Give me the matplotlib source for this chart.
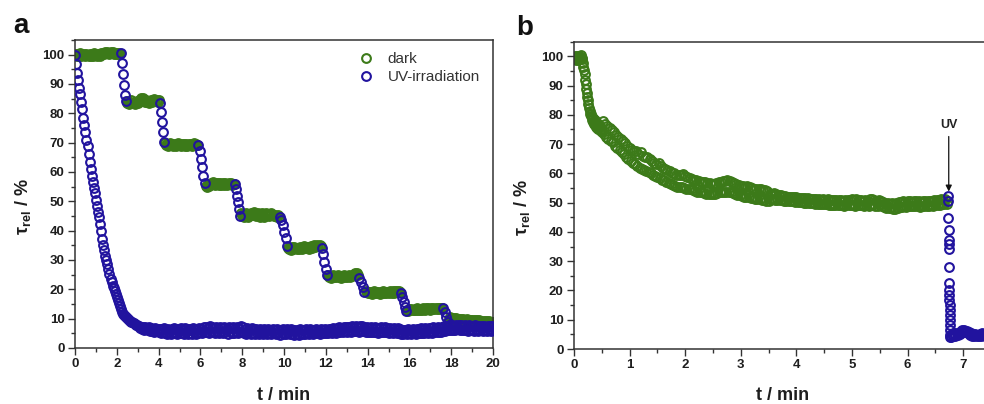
import numpy as np
import matplotlib
matplotlib.use("Agg")
import matplotlib.pyplot as plt
from matplotlib.lines import Line2D
from matplotlib.ticker import MultipleLocator

plt.rcParams.update({
    "font.family": ["Liberation Sans", "DejaVu Sans"],
    "mathtext.fontset": "custom",
    "mathtext.rm": "Liberation Sans",
    "mathtext.bf": "Liberation Sans:bold",
    "mathtext.it": "Liberation Sans:italic",
    "mathtext.default": "regular",
})

GREEN = "#3c7a19"
BLUE = "#21139e"

# ---------------- Panel a: stepwise (dark / UV pulses) ----------------
dark_bounds = [(0.0, 2.15), (2.5, 4.0), (4.3, 5.85), (6.25, 7.6), (7.95, 9.75),
               (10.2, 11.75), (12.1, 13.55), (13.9, 15.55), (15.9, 17.55), (17.9, 20.0)]
dark_1 = [99.8, 100.3, 99.5, 100.1, 99.7, 100.4, 99.4, 100.0, 99.8, 100.2,
          99.6, 100.3, 99.9, 99.5, 100.2, 99.7, 100.1, 99.6, 100.4, 99.9,
          100.2, 99.7, 100.3, 100.0, 99.6, 100.5, 100.1, 100.7, 100.3, 100.9,
          100.4, 101.0, 100.6, 100.2, 100.8, 100.4, 100.9, 100.3, 100.7, 100.1,
          100.6, 100.2, 100.5, 100.3]
dark_2 = [83.6, 84.2, 83.3, 83.9, 84.4, 83.5, 84.0, 83.2, 83.8, 84.3,
          83.6, 84.1, 84.6, 85.1, 84.4, 85.3, 84.7, 84.0, 84.5, 83.7,
          84.2, 83.5, 84.0, 84.6, 83.8, 84.3, 84.9, 84.2, 84.6, 84.0, 84.4]
dark_3 = [69.8, 69.2, 69.6, 68.9, 69.4, 69.9, 69.1, 69.5, 68.8, 69.3,
          69.7, 69.0, 69.4, 69.8, 69.2, 68.9, 69.5, 69.1, 69.6, 69.0,
          69.4, 68.8, 69.3, 69.7, 69.1, 69.5, 68.9, 69.4, 69.8, 69.2, 69.6, 69.1]
dark_4 = [55.3, 54.9, 55.5, 55.1, 55.8, 56.3, 55.9, 56.5, 56.0, 55.6,
          56.2, 55.8, 56.4, 55.7, 56.1, 55.5, 56.0, 56.3, 55.7, 56.1,
          55.6, 55.9, 56.4, 55.8, 56.2, 55.7, 56.0, 55.8]
dark_5 = [46.0, 45.3, 45.8, 44.8, 45.5, 46.1, 45.0, 44.6, 45.4, 45.9,
          45.2, 45.7, 46.2, 45.5, 45.0, 45.8, 46.1, 45.4, 44.8, 45.3,
          45.9, 45.1, 44.7, 45.5, 46.0, 45.3, 45.8, 45.0, 45.6, 46.1,
          45.4, 44.9, 45.5, 45.1, 44.7, 45.2, 44.8]
dark_6 = [34.2, 33.7, 34.0, 33.5, 34.3, 33.9, 34.5, 34.1, 33.6, 34.2,
          33.8, 34.4, 34.0, 33.7, 34.3, 34.8, 34.2, 34.6, 34.0, 34.5,
          33.9, 34.3, 34.7, 34.1, 34.6, 35.0, 34.4, 34.9, 35.2, 34.7, 35.1, 34.8]
dark_7 = [24.8, 24.2, 24.6, 24.0, 24.5, 24.9, 24.3, 24.7, 24.1, 24.5,
          24.8, 24.2, 24.6, 24.0, 24.4, 24.8, 24.3, 24.6, 24.1, 24.5,
          24.9, 24.3, 24.7, 24.4, 24.8, 25.2, 25.6, 25.1, 25.4, 25.0]
dark_8 = [19.4, 19.0, 18.6, 19.2, 18.8, 19.1, 18.5, 18.9, 19.3, 18.7,
          19.0, 18.6, 19.2, 18.8, 18.5, 19.1, 18.9, 19.3, 18.7, 19.0,
          18.6, 19.2, 18.8, 19.4, 19.0, 18.7, 19.3, 18.9, 19.5, 19.1,
          19.6, 19.2, 19.4, 19.0]
dark_9 = [13.0, 12.7, 13.2, 12.9, 13.4, 13.0, 12.8, 13.3, 13.1, 13.5,
          13.0, 13.3, 12.9, 13.4, 13.1, 13.6, 13.2, 13.0, 13.5, 13.2,
          13.7, 13.3, 13.1, 13.6, 13.4, 13.8, 13.3, 13.6, 13.2, 13.7,
          13.4, 13.8, 13.5, 13.6]
dark_10 = [10.0, 10.4, 9.9, 10.2, 9.7, 10.1, 9.8, 10.3, 9.9, 10.0,
           9.6, 9.9, 9.5, 9.8, 9.4, 9.7, 9.5, 9.8, 9.3, 9.6,
           9.4, 9.7, 9.2, 9.5, 9.3, 9.6, 9.2, 9.4, 9.1, 9.5,
           9.2, 9.0, 9.3, 8.9, 9.2, 9.0, 9.3, 8.9, 9.1, 8.8,
           9.0, 8.8, 8.9]
dark_values = [dark_1, dark_2, dark_3, dark_4, dark_5, dark_6, dark_7, dark_8, dark_9, dark_10]

pulse_bounds = [(2.2, 2.45), (4.05, 4.25), (5.9, 6.2), (7.65, 7.9), (9.8, 10.15),
                (11.8, 12.05), (13.6, 13.85), (15.6, 15.85), (17.6, 17.85)]
pulse_1 = [100.4, 97.3, 93.4, 89.6, 86.2, 84.3]
pulse_2 = [83.6, 80.3, 76.9, 73.5, 70.2]
pulse_3 = [69.2, 67.0, 64.4, 61.6, 58.7, 56.3]
pulse_4 = [55.9, 54.2, 51.9, 49.7, 47.4, 45.1]
pulse_5 = [44.6, 43.6, 41.9, 39.7, 37.4, 34.8]
pulse_6 = [34.2, 32.1, 29.3, 27.0, 24.8]
pulse_7 = [24.0, 22.4, 20.7, 19.2]
pulse_8 = [18.9, 17.3, 15.6, 13.9, 12.6]
pulse_9 = [13.7, 12.2, 10.5, 9.0]
pulse_values = [pulse_1, pulse_2, pulse_3, pulse_4, pulse_5, pulse_6, pulse_7, pulse_8, pulse_9]

# continuous UV irradiation
uv_fast_bounds = (0.0, 3.0)
uv_fast = [100.0, 96.8, 93.8, 91.3, 88.8, 86.5, 84.0, 81.5, 78.5, 76.0,
           73.5, 71.0, 68.7, 66.0, 63.5, 61.0, 58.5, 56.5, 54.5, 52.8,
           50.5, 48.5, 46.5, 44.5, 42.3, 39.8, 37.3, 35.0, 33.3, 31.5,
           30.0, 28.5, 27.0, 25.2, 23.6, 22.5, 21.3, 20.3, 19.3, 18.3,
           17.3, 16.2, 15.2, 14.3, 13.2, 12.3, 11.5, 11.1, 10.8, 10.5,
           10.2, 9.9, 9.6, 9.3, 9.0, 8.7, 8.5, 8.2, 8.0, 7.8, 7.6]
uv_slow_bounds = (3.05, 20.0)
uv_slow = [7.6, 6.8, 7.3, 6.4, 7.1, 6.2, 7.0, 6.5, 6.9, 6.1,
           7.2, 5.9, 6.8, 5.7, 6.6, 5.4, 6.7, 5.8, 6.5, 5.3,
           6.6, 5.2, 6.4, 5.5, 6.9, 5.1, 6.3, 4.9, 6.5, 5.4,
           6.2, 4.8, 6.6, 5.3, 6.8, 5.0, 6.1, 4.7, 6.4, 5.2,
           6.7, 5.1, 6.3, 4.8, 6.9, 5.4, 6.2, 4.9, 6.6, 5.0,
           6.4, 4.9, 6.8, 5.3, 6.5, 4.8, 6.3, 5.1, 6.9, 5.4,
           6.6, 5.2, 7.1, 5.6, 7.3, 5.5, 6.8, 5.1, 7.4, 5.7,
           7.0, 5.3, 6.8, 5.0, 7.2, 5.4, 6.9, 5.2, 7.1, 5.5,
           6.7, 5.1, 7.0, 5.3, 6.6, 4.9, 7.2, 5.4, 6.8, 5.0,
           7.1, 5.2, 6.9, 5.5, 7.3, 5.0, 6.8, 5.3, 7.4, 5.6,
           7.2, 5.1, 6.6, 4.8, 6.9, 5.3, 6.5, 4.9, 6.7, 5.2,
           6.4, 4.8, 6.6, 5.1, 6.3, 4.7, 6.5, 5.0, 6.2, 4.9,
           6.6, 5.0, 6.3, 4.8, 6.5, 5.2, 6.1, 4.7, 6.4, 5.0,
           6.2, 4.9, 6.5, 5.1, 6.0, 4.6, 6.3, 5.0, 6.4, 4.8,
           6.1, 4.7, 6.4, 5.0, 6.2, 4.8, 6.5, 4.9, 6.0, 4.6,
           6.3, 4.9, 6.1, 4.5, 6.4, 5.0, 6.2, 4.7, 6.0, 4.8,
           6.4, 5.0, 6.2, 4.8, 6.5, 5.1, 6.3, 4.9, 6.1, 5.0,
           6.5, 5.2, 6.3, 4.9, 6.6, 5.1, 6.2, 5.0, 6.4, 5.2,
           6.3, 5.1, 6.6, 5.3, 6.4, 5.0, 6.7, 5.4, 6.5, 5.2,
           6.8, 5.5, 7.0, 5.6, 6.9, 5.4, 7.2, 5.7, 7.1, 5.6,
           7.3, 5.8, 7.1, 5.6, 7.4, 5.9, 7.2, 5.7, 7.5, 5.8,
           7.2, 5.6, 7.4, 5.9, 7.6, 5.8, 7.3, 5.5, 7.1, 5.6,
           6.9, 5.4, 7.1, 5.6, 6.8, 5.3, 7.0, 5.5, 6.7, 5.2,
           6.9, 5.4, 7.0, 5.3, 6.8, 5.5, 7.1, 5.4, 6.7, 5.2,
           6.8, 5.3, 6.6, 5.1, 6.9, 5.4, 6.5, 5.0, 6.7, 5.2,
           6.4, 4.9, 6.2, 4.8, 6.3, 5.0, 6.1, 4.7, 6.4, 5.0,
           6.2, 4.8, 6.5, 5.1, 6.3, 4.9, 6.6, 5.2, 6.4, 5.0,
           6.7, 5.2, 6.5, 5.0, 6.8, 5.3, 6.6, 5.1, 6.9, 5.4,
           6.7, 5.2, 7.0, 5.5, 6.8, 5.3, 7.1, 5.6, 6.9, 5.4,
           7.2, 5.7, 7.4, 5.9, 7.6, 6.0, 7.5, 6.1, 7.7, 6.2,
           7.8, 6.3, 7.6, 6.1, 7.9, 6.4, 7.7, 6.0, 7.8, 6.3,
           7.6, 6.1, 7.8, 6.2, 7.5, 5.9, 7.7, 6.3, 7.6, 6.0,
           7.5, 5.9, 7.7, 6.2, 7.4, 5.8, 7.6, 6.1, 7.5, 5.9,
           7.6, 6.0, 7.3, 5.8, 7.5, 6.1, 7.4, 5.7, 7.6, 6.0]

# ---------------- Panel b: dark then UV ----------------
b_dark_early_bounds = (0.0, 0.50)
b_dark_early = [99.2, 100.0, 99.5, 98.8, 99.8, 100.2, 99.4, 98.9, 99.7, 100.1,
                99.3, 99.0, 99.8, 100.3, 99.6,
                99.0, 97.8, 96.5, 95.2, 93.8, 92.0, 90.5, 89.0, 87.6, 86.2,
                85.0, 83.6, 82.5, 81.2, 80.4, 79.6,
                80.2, 78.4, 79.3, 77.6, 78.8, 77.0, 78.1, 76.5, 77.7, 76.0,
                77.2, 75.6, 76.8, 75.2, 76.4, 74.8, 75.9, 74.5, 75.3, 74.0]
b_dark_late_bounds = (0.52, 6.70)
b_dark_late = [78.0, 73.4, 76.8, 72.5, 76.1, 71.8, 75.5, 71.0, 74.8, 70.6,
               74.2, 69.4, 73.1, 68.8, 72.6, 67.9, 71.7, 67.2, 71.0, 66.6,
               70.4, 65.5, 69.3, 65.0, 68.7, 64.1, 68.0, 63.6, 67.6, 63.1,
               67.7, 62.4, 66.6, 61.9, 67.2, 61.5, 65.9, 61.1, 65.5, 60.8,
               65.6, 60.5, 64.9, 60.0, 64.3, 59.6, 63.7, 59.1, 63.3, 58.8,
               63.4, 58.4, 62.6, 57.9, 62.0, 57.6, 61.5, 57.1, 61.1, 56.8,
               60.9, 56.5, 60.3, 56.1, 60.0, 55.8, 59.6, 55.5, 59.3, 55.3,
               59.4, 55.2, 59.7, 55.0, 59.0, 54.8, 58.6, 54.6, 58.3, 54.5,
               58.1, 54.3, 57.8, 54.0, 57.6, 53.8, 57.3, 53.6, 57.1, 53.5,
               57.2, 53.3, 56.9, 53.1, 56.7, 53.0, 56.6, 52.9, 56.4, 53.1,
               56.5, 53.1, 56.7, 53.3, 57.0, 53.5, 57.2, 53.7, 57.4, 53.8,
               57.5, 53.8, 57.7, 53.7, 57.3, 53.5, 57.0, 53.2, 56.8, 53.0,
               56.4, 52.7, 56.1, 52.5, 55.8, 52.2, 55.6, 52.0, 55.4, 51.9,
               55.7, 51.8, 55.3, 51.6, 55.1, 51.5, 54.8, 51.3, 54.6, 51.2,
               54.5, 51.1, 54.7, 51.0, 54.4, 50.8, 54.2, 50.7, 54.0, 50.6,
               53.1, 51.3, 52.9, 51.2, 53.2, 51.0, 52.8, 50.9, 52.6, 50.9,
               52.5, 50.8, 52.3, 50.7, 52.4, 50.6, 52.1, 50.5, 52.0, 50.5,
               51.9, 50.4, 52.0, 50.3, 51.8, 50.2, 51.7, 50.2, 51.6, 50.1,
               51.7, 50.0, 51.5, 49.9, 51.6, 49.9, 51.4, 49.8, 51.3, 49.8,
               51.2, 49.7, 51.3, 49.6, 51.1, 49.5, 51.0, 49.5, 51.2, 49.4,
               51.0, 49.4, 51.1, 49.3, 50.9, 49.2, 51.0, 49.3, 50.8, 49.2,
               50.9, 49.2, 51.0, 49.1, 50.8, 49.1, 50.7, 49.0, 50.9, 49.2,
               51.0, 49.1, 50.8, 49.3, 51.2, 49.2, 50.9, 49.0, 51.1, 49.2,
               50.8, 49.1, 51.0, 49.3, 50.7, 49.0, 50.9, 49.2, 50.6, 48.9,
               51.1, 49.2, 51.3, 49.4, 50.9, 49.0, 50.7, 48.9, 50.8, 49.1,
               50.5, 48.8, 50.3, 48.6, 50.0, 48.3, 49.8, 48.1, 49.7, 48.2,
               49.9, 48.0, 49.6, 47.9, 49.8, 48.2, 50.1, 48.4, 50.3, 48.5,
               50.5, 48.7, 50.2, 48.6, 50.4, 48.8, 50.6, 48.9, 50.3, 48.7,
               50.5, 48.8, 50.7, 48.9, 50.4, 48.6, 50.2, 48.7, 50.5, 48.9,
               50.6, 49.0, 50.4, 48.8, 50.7, 49.1, 50.5, 48.9, 50.8, 49.2,
               51.0, 49.3, 50.8, 49.2, 51.2, 49.5, 50.9, 49.4, 51.4, 49.7]
b_uv_drop_bounds = (6.73, 6.77)
b_uv_drop = [52.2, 50.5, 44.6, 40.6, 37.2, 35.8, 34.0, 28.1, 22.4, 20.1,
             18.4, 16.7, 15.0, 13.3, 11.6, 9.9, 8.2, 6.5, 4.8, 4.0]
b_uv_tail_bounds = (6.78, 7.50)
b_uv_tail = [4.2, 5.0, 4.4, 5.3, 4.6, 5.5, 4.8, 5.6, 5.2, 6.0,
             6.4, 5.8, 6.6, 5.9, 6.2, 5.4, 5.7, 4.9, 5.3, 4.6,
             5.0, 4.4, 5.2, 4.5, 4.9, 4.3, 5.1, 4.6, 5.3, 4.7,
             5.2, 4.5, 5.0, 4.4, 5.1, 4.6, 4.9]


def times(bounds, values):
    return np.linspace(bounds[0], bounds[1], len(values))


mk = dict(linestyle="none", marker="o", markerfacecolor="none", markersize=6.3,
          markeredgewidth=1.5)

fig = plt.figure(figsize=(9.84, 4.04), dpi=100)
ax_a = fig.add_axes([75 / 984, 56 / 404, 418 / 984, 308 / 404])
ax_b = fig.add_axes([574 / 984, 55 / 404, 417 / 984, 307.3 / 404])

# panel a
for bnd, vals in zip(dark_bounds, dark_values):
    ax_a.plot(times(bnd, vals), vals, color=GREEN, markeredgecolor=GREEN, zorder=2, **mk)
for bnd, vals in zip(pulse_bounds, pulse_values):
    ax_a.plot(times(bnd, vals), vals, color=BLUE, markeredgecolor=BLUE, zorder=3, **mk)
ax_a.plot(times(uv_fast_bounds, uv_fast), uv_fast, color=BLUE, markeredgecolor=BLUE, zorder=3, **mk)
ax_a.plot(times(uv_slow_bounds, uv_slow), uv_slow, color=BLUE, markeredgecolor=BLUE, zorder=3, **mk)

# panel b
ax_b.plot(times(b_dark_early_bounds, b_dark_early), b_dark_early, color=GREEN,
          markeredgecolor=GREEN, zorder=2, **mk)
ax_b.plot(times(b_dark_late_bounds, b_dark_late), b_dark_late, color=GREEN,
          markeredgecolor=GREEN, zorder=2, **mk)
ax_b.plot(times(b_uv_drop_bounds, b_uv_drop), b_uv_drop, color=BLUE,
          markeredgecolor=BLUE, zorder=3, **mk)
ax_b.plot(times(b_uv_tail_bounds, b_uv_tail), b_uv_tail, color=BLUE,
          markeredgecolor=BLUE, zorder=3, **mk)

ax_b.annotate("UV", xy=(6.74, 53.8), xytext=(6.74, 74.5), ha="center", va="bottom",
              fontsize=9, fontweight="bold", color="#222222",
              arrowprops=dict(arrowstyle="-|>", color="#111111", lw=0.9,
                              mutation_scale=9, shrinkA=2, shrinkB=0))

TXT = "#1e1e1e"
for ax, xmax, xmaj, xmin in ((ax_a, 20, 2, 1), (ax_b, 7.5, 1, 0.5)):
    ax.set_xlim(0, xmax)
    ax.set_ylim(0, 105)
    ax.xaxis.set_major_locator(MultipleLocator(xmaj))
    ax.xaxis.set_minor_locator(MultipleLocator(xmin))
    ax.yaxis.set_major_locator(MultipleLocator(10))
    ax.yaxis.set_minor_locator(MultipleLocator(5))
    ax.tick_params(which="both", direction="out", top=False, right=False,
                   colors="#333333", width=1.0, labelcolor=TXT)
    ax.tick_params(which="major", length=5, labelsize=9.5, pad=2.5)
    ax.tick_params(which="minor", length=3)
    for lab in ax.get_xticklabels() + ax.get_yticklabels():
        lab.set_fontweight("bold")
    for sp in ax.spines.values():
        sp.set_linewidth(1.1)
        sp.set_color("#333333")
    ax.set_xlabel("t / min", fontsize=13, fontweight="bold", color=TXT)
    ax.set_ylabel(r"$\tau_{\mathbf{rel}}$ / %", fontsize=13, fontweight="bold", color=TXT)
    ax.xaxis.set_label_coords(0.5, -0.125)
    ax.yaxis.set_label_coords(-0.10, 0.46)

handles = [Line2D([], [], color=GREEN, markeredgecolor=GREEN, **mk),
           Line2D([], [], color=BLUE, markeredgecolor=BLUE, **mk)]
ax_a.legend(handles, ["dark", "UV-irradiation"], loc="upper right",
            bbox_to_anchor=(0.99, 0.99), frameon=False, fontsize=11,
            handletextpad=0.8, labelspacing=0.25, handlelength=1.2,
            borderaxespad=0.2, labelcolor="#333333")

fig.text(13 / 984, 1 - 33 / 404, "a", fontsize=20, fontweight="bold", va="baseline", color="#111111")
fig.text(516 / 984, 1 - 35 / 404, "b", fontsize=20, fontweight="bold", va="baseline", color="#111111")

fig.savefig("out.png", dpi=100)
